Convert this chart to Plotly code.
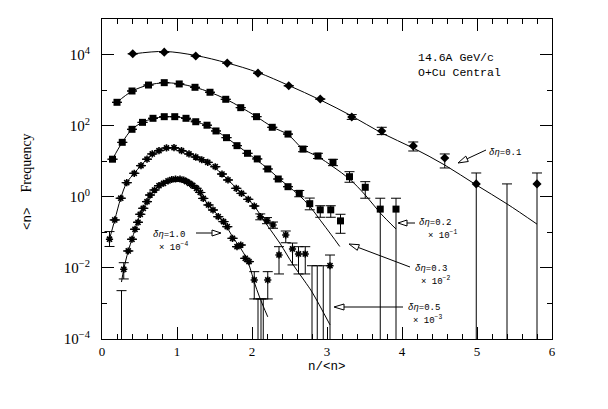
import plotly.graph_objects as go

# ---------------- data ----------------
# delta-eta = 0.1 (unscaled), diamonds
x1 = [0.41, 0.83, 1.25, 1.67, 2.08, 2.49, 2.91, 3.33, 3.73, 4.15, 4.57, 4.99, 5.80]
y1 = [10500, 11700, 9100, 5750, 3000, 1320, 560, 175, 71, 27, 12.3, 2.3, 2.3]
y1_hi = [None, None, None, None, None, None, None, 205, 90, 34.8, 16, 4.67, 4.67]
y1_lo = [None, None, None, None, None, None, None, 150, 56, 19.4, 6.46, 0, 0]
ul1_x = [5.40]
ul1_y = [2.3]
f1x = [0.41, 0.83, 1.25, 1.67, 2.08, 2.49, 2.91, 3.33, 3.73, 4.15, 4.57, 4.99, 5.40, 5.80]
f1y = [10400, 12200, 9400, 5800, 3130, 1350, 530, 187, 62, 23.5, 7.8, 2.15, 0.63, 0.17]

# delta-eta = 0.2 (x 10^-1), squares
x2 = [0.20, 0.40, 0.62, 0.83, 1.03, 1.24, 1.44, 1.65, 1.85, 2.06, 2.27, 2.48,
      2.68, 2.88, 3.08, 3.30, 3.51, 3.71, 3.92]
y2 = [454, 944, 1390, 1620, 1490, 1200, 870, 552, 321, 179, 90, 58,
      22, 14, 9.3, 3.67, 1.85, 0.45, 0.45]
y2_hi = [None] * 12 + [26, 16.7, 11.3, 5.08, 2.66, 0.91, 0.91]
y2_lo = [None] * 12 + [18.5, 11.9, 7.5, 2.56, 0.91, 0, 0]
f2x = [0.20, 0.40, 0.62, 0.83, 1.03, 1.24, 1.44, 1.65, 1.85, 2.06, 2.27, 2.48,
       2.68, 2.88, 3.08, 3.30, 3.51, 3.71, 3.92]
f2y = [454, 930, 1390, 1600, 1500, 1200, 870, 560, 330, 180, 92, 56,
       22, 13.4, 7.0, 3.16, 1.12, 0.35, 0.124]

# delta-eta = 0.3 (x 10^-2), squares
x3 = [0.14, 0.27, 0.40, 0.54, 0.68, 0.83, 0.97, 1.12, 1.25, 1.40, 1.52, 1.66,
      1.80, 1.94, 2.07, 2.21, 2.35, 2.48, 2.63, 2.77, 2.91, 3.05, 3.18]
y3 = [11.4, 34, 79, 124, 161, 179, 179, 161, 129, 103, 71, 46,
      27.4, 16.7, 11.6, 6.05, 3.16, 1.92, 1.25, 0.64, 0.43, 0.43, 0.21]
y3_hi = [None] * 18 + [1.5, 0.92, 0.56, 0.56, 0.322]
y3_lo = [None] * 18 + [1.0, 0.43, 0.265, 0.265, 0.094]
f3x = [0.14, 0.27, 0.40, 0.54, 0.68, 0.83, 0.97, 1.12, 1.25, 1.40, 1.52, 1.66,
       1.80, 1.94, 2.07, 2.21, 2.35, 2.48, 2.63, 2.77, 2.91, 3.05, 3.17]
f3y = [11.4, 34, 79, 124, 158, 177, 177, 160, 130, 100, 72, 46,
       28, 17, 10.5, 6.2, 3.4, 2.0, 1.1, 0.54, 0.22, 0.089, 0.04]

# delta-eta = 0.5 (x 10^-3), stars
x4 = [0.10, 0.17, 0.25, 0.33, 0.43, 0.52, 0.60, 0.67, 0.76, 0.86, 0.96, 1.06,
      1.16, 1.25, 1.33, 1.41, 1.51, 1.60, 1.68, 1.79, 1.86, 1.95, 2.03, 2.11,
      2.20, 2.28, 2.36, 2.45, 2.54, 2.62, 2.71, 3.04]
y4 = [0.064, 0.223, 0.91, 2.49, 4.58, 7.5, 11.4, 16.0, 19.8, 23.6, 24.0, 19.8,
      16.0, 13.1, 11.0, 9.3, 7.0, 4.37, 2.97, 1.73, 1.25, 0.85, 0.55, 0.275,
      0.213, 0.161, 0.0231, 0.0843, 0.034, 0.0246, 0.0246, 0.0115]
y4_hi = [0.105] + [None] * 22 + [0.33, 0.26, 0.195, 0.0395, 0.109, 0.050, 0.0395, 0.0395, 0.023]
y4_lo = [0.040] + [None] * 22 + [0.225, 0.175, 0.13, 0.00675, 0.051, 0.0121, 0.00675, 0.00675, 0]
ul4_x = [2.80, 2.87, 2.95]
ul4_y = [0.0115, 0.0115, 0.0115]
f4x = [0.10, 0.17, 0.25, 0.33, 0.43, 0.52, 0.60, 0.67, 0.76, 0.86, 0.96, 1.06,
       1.16, 1.25, 1.41, 1.60, 1.79, 1.95, 2.03, 2.20, 2.37, 2.55, 2.70, 2.80, 3.04]
f4y = [0.064, 0.223, 0.91, 2.49, 4.58, 7.6, 11.4, 15.5, 20, 23.5, 24, 21,
       17, 13.5, 9.0, 4.4, 1.75, 0.85, 0.55, 0.161, 0.050, 0.0121, 0.0043, 0.0021, 0.00025]

# delta-eta = 1.0 (x 10^-4), stars
x5 = [0.29, 0.35, 0.40, 0.44, 0.48, 0.51, 0.55, 0.60, 0.64, 0.70, 0.76, 0.82,
      0.88, 0.93, 0.98, 1.04, 1.09, 1.13, 1.17, 1.21, 1.26, 1.31, 1.35, 1.42,
      1.48, 1.55, 1.62, 1.67, 1.74, 1.80, 1.85, 1.91, 1.96, 2.03, 2.21]
y5 = [0.00914, 0.0299, 0.0638, 0.122, 0.192, 0.322, 0.475, 0.729, 1.12, 1.55, 2.05, 2.4,
      2.78, 3.06, 3.16, 3.16, 2.96, 2.66, 2.37, 2.08, 1.73, 1.32, 0.9, 0.588,
      0.425, 0.275, 0.2, 0.144, 0.068, 0.0395, 0.044, 0.0186, 0.015, 0.00457, 0.00457]
y5_hi = [0.014] + [None] * 32 + [0.00783, 0.00783]
y5_lo = [0.00489] + [None] * 32 + [0.00134, 0.00134]
ul5_x = [0.26, 2.08, 2.12, 2.15]
ul5_y = [0.00229, 0.00134, 0.00134, 0.00134]
f5x = [0.26, 0.29, 0.35, 0.40, 0.44, 0.51, 0.60, 0.70, 0.82, 0.93, 1.00, 1.09,
       1.17, 1.26, 1.35, 1.48, 1.62, 1.74, 1.85, 1.91, 1.97, 2.03, 2.10, 2.21]
f5y = [0.004, 0.0091, 0.03, 0.064, 0.12, 0.32, 0.73, 1.55, 2.4, 3.06, 3.16, 2.96,
       2.37, 1.73, 0.9, 0.425, 0.2, 0.075, 0.035, 0.0216, 0.0106, 0.004, 0.00152, 0.00042]

y_tickvals = [1e-4, 1e-2, 1, 1e2, 1e4]
y_ticktext = ["10<sup>−4</sup>", "10<sup>−2</sup>", "10<sup>0</sup>", "10<sup>2</sup>", "10<sup>4</sup>"]
x_tickvals = [0, 1, 2, 3, 4, 5, 6]
x_ticktext = ["0", "1", "2", "3", "4", "5", "6"]

labels = ["<i>δη</i>=0.1", "<i>δη</i>=0.2", "<i>δη</i>=0.3", "<i>δη</i>=0.5", "<i>δη</i>=1.0"]
scales = ["", "× 10<sup>−1</sup>", "× 10<sup>−2</sup>", "× 10<sup>−3</sup>", "× 10<sup>−4</sup>"]

# ---------------- figure ----------------
# page body has an 8px margin, so the figure is made 8px smaller and margins shifted
OFF = 8
W, H = 608 - OFF, 409 - OFF
SL, SR, ST, SB = 102, 56, 19, 70          # plot-area edges in screen pixels
L, R, T, B = SL - OFF, SR, ST - OFF, SB
PW, PH = 608 - SL - SR, 409 - ST - SB


def px(xp):
    return (xp - SL) / PW


def py(yp):
    return (409 - SB - yp) / PH


fig = go.Figure()


def errs(y, hi, lo):
    plus = [None if h is None else h - v for v, h in zip(y, hi)]
    minus = [None if l is None else v - l for v, l in zip(y, lo)]
    return plus, minus


def add_fit(x, y):
    fig.add_trace(go.Scatter(x=x, y=y, mode="lines", line=dict(color="black", width=1, shape="spline"),
                             showlegend=False, hoverinfo="skip"))


def add_pts(x, y, hi, lo, marker):
    plus, minus = errs(y, hi, lo)
    fig.add_trace(go.Scatter(x=x, y=y, mode="markers", marker=marker,
                             error_y=dict(type="data", symmetric=False, array=plus, arrayminus=minus,
                                          color="black", thickness=1, width=5),
                             showlegend=False))


def add_ul(x, y):
    fig.add_trace(go.Scatter(x=x, y=y, mode="markers", marker=dict(size=1, color="rgba(0,0,0,0)"),
                             error_y=dict(type="data", symmetric=False, array=[0] * len(y), arrayminus=y,
                                          color="black", thickness=1, width=5),
                             showlegend=False, hoverinfo="skip"))


add_fit(f1x, f1y)
add_fit(f2x, f2y)
add_fit(f3x, f3y)
add_fit(f4x, f4y)
add_fit(f5x, f5y)

star = dict(symbol="asterisk-open", size=6, color="black", line=dict(color="black", width=1.6))
add_pts(x1, y1, y1_hi, y1_lo, dict(symbol="diamond", size=7, color="black"))
add_ul(ul1_x, ul1_y)
add_pts(x2, y2, y2_hi, y2_lo, dict(symbol="square", size=7, color="black"))
add_pts(x3, y3, y3_hi, y3_lo, dict(symbol="square", size=7, color="black"))
add_pts(x4, y4, y4_hi, y4_lo, star)
add_ul(ul4_x, ul4_y)
add_pts(x5, y5, y5_hi, y5_lo, star)
add_ul(ul5_x, ul5_y)

mono = "Liberation Mono, Courier New, monospace"
serif = "Liberation Serif, Times New Roman, serif"

ann = []


def text(s, xp, yp, size=9, family=mono, xanchor="left"):
    ann.append(dict(text=s, x=px(xp), y=py(yp), xref="paper", yref="paper", showarrow=False,
                    xanchor=xanchor, yanchor="middle", font=dict(family=family, size=size, color="black")))


text("14.6A GeV/c", 416, 57, size=11.5)
text("O+Cu Central", 416, 73, size=11.5)
text(labels[0], 487, 153)
text(labels[1], 417, 223)
text(scales[1], 426, 235)
text(labels[2], 413, 269)
text(scales[2], 419, 281)
text(labels[3], 406, 308)
text(scales[3], 411, 320)
text(labels[4], 151, 235)
text(scales[4], 157, 247)
text("n/&lt;n&gt;", 327, 367, size=12.5, xanchor="center")
ann.append(dict(text="&lt;n&gt;  <span style=\"font-family:'Liberation Serif'; font-size:14px\">Frequency</span>",
                x=px(27), y=py(182), xref="paper", yref="paper",
                showarrow=False, textangle=-90, xanchor="center", yanchor="middle",
                font=dict(family=mono, size=12.5, color="black")))

shapes = []


def arrow(tail, base, c1, c2, tip):
    shapes.append(dict(type="line", xref="paper", yref="paper", x0=px(tail[0]), y0=py(tail[1]),
                       x1=px(base[0]), y1=py(base[1]), line=dict(color="black", width=1)))
    path = "M {} {} L {} {} L {} {} Z".format(px(tip[0]), py(tip[1]), px(c1[0]), py(c1[1]), px(c2[0]), py(c2[1]))
    shapes.append(dict(type="path", xref="paper", yref="paper", path=path,
                       line=dict(color="black", width=1), fillcolor="white"))


arrow((486, 150), (467.1, 158.8), (468.3, 161.5), (465.8, 156.1), (458, 163))
arrow((415, 223), (407, 223), (407, 220), (407, 226), (398, 223))
arrow((410, 267), (358.4, 247.5), (359.4, 244.7), (357.3, 250.3), (349, 244))
arrow((403, 307), (344, 307), (344, 304), (344, 310), (334, 307))
arrow((196, 233), (212, 233), (212, 230), (212, 236), (221, 233))

fig.update_layout(
    width=W, height=H,
    margin=dict(l=L, r=R, t=T, b=B, autoexpand=False),
    paper_bgcolor="white", plot_bgcolor="white",
    annotations=ann, shapes=shapes,
    showlegend=False,
)
fig.update_xaxes(range=[0, 6], tickvals=x_tickvals, ticktext=x_ticktext, ticks="inside", ticklen=12,
                 tickcolor="black", showline=True, linecolor="black", linewidth=1, mirror="allticks",
                 showgrid=False, zeroline=False, ticklabelstandoff=0,
                 tickfont=dict(family=serif, size=13, color="black"),
                 minor=dict(dtick=0.2, ticks="inside", ticklen=5, tickcolor="black", showgrid=False))
fig.update_yaxes(type="log", range=[-4, 5], tickvals=y_tickvals, ticktext=y_ticktext, ticks="inside",
                 ticklen=12, tickcolor="black", showline=True, linecolor="black", linewidth=1,
                 mirror="allticks", showgrid=False, zeroline=False, ticklabelstandoff=8,
                 tickfont=dict(family=serif, size=15, color="black"),
                 minor=dict(tickvals=[1e-3, 1e-1, 10, 1e3], ticks="inside", ticklen=5, tickcolor="black",
                            showgrid=False))

fig.write_html("out.html")
